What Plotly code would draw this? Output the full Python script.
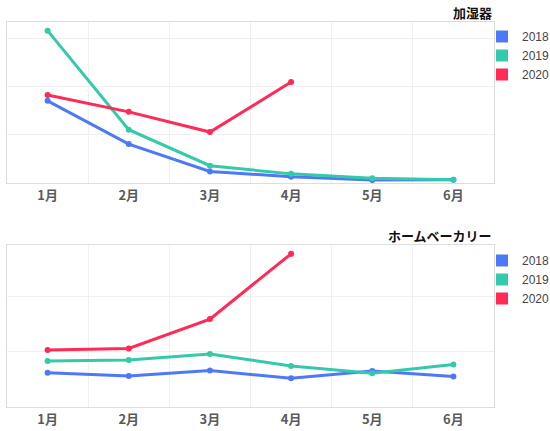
import plotly.graph_objects as go
from plotly.subplots import make_subplots

months = ["1月", "2月", "3月", "4月", "5月", "6月"]
years = ["2018", "2019", "2020"]
colors = ["#4e79f6", "#35c9ac", "#fd2b55"]

# 加湿器
humidifier_2018 = [171, 81, 24, 13, 6, 7]
humidifier_2019 = [317, 111, 36, 19, 10, 7]
humidifier_2020 = [183, 148, 106, 210]

# ホームベーカリー
bakery_2018 = [62, 56, 66, 52, 65, 55]
bakery_2019 = [83, 85, 96, 74, 61, 77]
bakery_2020 = [103, 106, 159, 277]

charts = [
    ("加湿器", [humidifier_2018, humidifier_2019, humidifier_2020], 335),
    ("ホームベーカリー", [bakery_2018, bakery_2019, bakery_2020], 293),
]

W, H = 550, 431
fig = make_subplots(rows=2, cols=1)

font_jp = "Noto Sans CJK JP"
domains = [(22, 183), (245, 407)]
legend_tops = [22, 246]
title_ys = [12, 236]

for i, (title, series, ymax) in enumerate(charts):
    row = i + 1
    legend_name = "legend" if i == 0 else "legend2"
    for year, vals, col in zip(years, series, colors):
        fig.add_trace(go.Scatter(
            x=months[:len(vals)], y=vals, mode="lines+markers",
            line=dict(color=col, width=3), marker=dict(color=col, size=6),
            showlegend=False, hoverinfo="skip"), row=row, col=1)
        # square legend entries
        fig.add_trace(go.Scatter(
            x=[None], y=[None], mode="markers", name=year,
            marker=dict(color=col, size=12, symbol="square"),
            legend=legend_name), row=row, col=1)

    top, bottom = domains[i]
    fig.update_xaxes(type="category", categoryorder="array", categoryarray=months,
                     range=[-0.5, 5.5], tickson="boundaries", showgrid=True,
                     gridcolor="#f0f0f0", showline=True, linecolor="#dddddd",
                     mirror=True, ticks="", zeroline=False,
                     domain=[7 / W, 494 / W],
                     tickfont=dict(family=font_jp, size=13, color="#5a5a5a", weight=600),
                     row=row, col=1)
    fig.update_yaxes(range=[0, ymax], dtick=100, showticklabels=False,
                     showgrid=True, gridcolor="#f0f0f0", showline=True,
                     linecolor="#dddddd", mirror=True, zeroline=False,
                     domain=[(H - bottom) / H, (H - top) / H], row=row, col=1)
    fig.add_annotation(text="<b>" + title + "</b>", xref="paper", yref="paper",
                       x=494 / W, y=(H - title_ys[i]) / H, xanchor="right",
                       yanchor="middle", showarrow=False,
                       font=dict(family=font_jp, size=13, color="#111111"))

legend_style = dict(xanchor="left", yanchor="top", bgcolor="rgba(0,0,0,0)",
                    font=dict(family="Liberation Sans", size=12, color="#444444"),
                    itemwidth=30, tracegroupgap=0)
fig.update_layout(
    width=W, height=H,
    margin=dict(l=0, r=0, t=0, b=0, autoexpand=False),
    paper_bgcolor="white", plot_bgcolor="white",
    legend=dict(x=482 / W, y=(H - legend_tops[0]) / H, **legend_style),
    legend2=dict(x=482 / W, y=(H - legend_tops[1]) / H, **legend_style),
)

fig.write_html("out.html", config={"displayModeBar": False},
               post_script="document.body.style.margin='0';")
